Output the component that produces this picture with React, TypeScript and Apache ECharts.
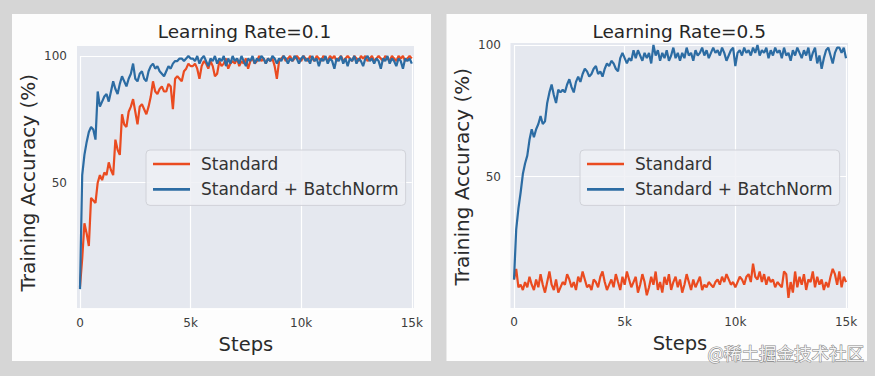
import React, { useEffect, useRef } from "react";
import * as echarts from "echarts";

// Sampled every 100 steps, 0 .. 15000
const STEP = 100;

const seriesNames = ["Standard", "Standard + BatchNorm"];
const titles = ["Learning Rate=0.1", "Learning Rate=0.5"];
const yTicks = [50, 100];
const xTickLabels = ["0", "5k", "10k", "15k"];

const stdLR01 = [
  9, 20, 34, 30, 25, 44, 43, 42, 50, 53, 51, 54, 53, 58, 55, 53, 67, 63, 61, 77,
  73, 72, 78, 80, 83, 78, 73, 80, 81, 79, 77, 80, 84, 90, 86, 85, 87, 88, 86, 86,
  89, 88, 79, 91, 92, 91, 90, 94, 95, 97, 96, 96, 97, 95, 91, 96, 98, 97, 95, 98,
  96, 92, 93, 98, 96, 97, 99, 95, 97, 98, 97, 99, 96, 98, 97, 99, 95, 98, 99, 97,
  98, 100, 98, 99, 97, 99, 98, 99, 96, 91, 98, 99, 100, 98, 99, 100, 98, 99, 100, 99,
  98, 100, 99, 98, 100, 99, 98, 100, 99, 98, 100, 99, 98, 100, 99, 100, 98, 99, 100, 98,
  99, 100, 99, 98, 100, 99, 98, 100, 99, 100, 98, 99, 100, 98, 99, 100, 99, 98, 100, 99,
  98, 100, 99, 98, 100, 99, 100, 98, 99, 100, 99,
];

const bnLR01 = [
  8, 53, 61, 66, 70, 72, 71, 67, 86, 80, 82, 84, 85, 82, 86, 90, 87, 85, 89, 92,
  90, 88, 91, 93, 97, 91, 90, 93, 94, 91, 90, 94, 96, 97, 95, 96, 94, 93, 92, 94,
  96, 95, 97, 98, 98, 99, 99, 98, 99, 100, 99, 99, 98, 100, 97, 99, 100, 98, 96, 99,
  98, 100, 97, 99, 98, 100, 96, 99, 97, 100, 98, 99, 97, 100, 98, 96, 99, 98, 100, 97,
  99, 98, 100, 99, 97, 99, 98, 100, 99, 97, 99, 98, 100, 99, 97, 99, 98, 100, 99, 97,
  99, 100, 98, 99, 97, 100, 98, 99, 96, 99, 98, 100, 97, 99, 98, 95, 99, 98, 100, 97,
  99, 96, 99, 98, 100, 97, 99, 98, 96, 99, 100, 98, 99, 97, 99, 98, 95, 99, 98, 100,
  97, 99, 98, 96, 99, 98, 95, 99, 98, 99, 97,
];

const stdLR05 = [
  11, 15, 8, 9, 7, 10, 8, 12, 9, 7, 11, 8, 13, 9, 6, 10, 14, 9, 7, 11,
  6, 8, 10, 9, 13, 11, 8, 10, 7, 12, 10, 14, 11, 8, 9, 7, 11, 10, 8, 12,
  14, 10, 7, 9, 11, 8, 13, 10, 7, 12, 9, 14, 11, 8, 10, 12, 6, 9, 13, 10,
  5, 8, 12, 9, 14, 7, 10, 6, 12, 9, 13, 7, 10, 12, 8, 11, 6, 9, 13, 10,
  7, 11, 8, 10, 12, 7, 9, 8, 10, 9, 8, 10, 11, 9, 12, 10, 13, 11, 9, 10,
  8, 10, 12, 11, 9, 12, 13, 10, 17, 12, 11, 14, 10, 13, 9, 12, 10, 11, 8, 10,
  9, 8, 14, 13, 4, 10, 6, 14, 8, 12, 9, 13, 7, 11, 10, 14, 8, 12, 9, 11,
  7, 10, 8, 12, 15, 13, 9, 14, 8, 12, 10,
];

const bnLR05 = [
  11, 30, 38, 44, 51, 55, 58, 64, 68, 65, 68, 70, 73, 70, 71, 78, 82, 85, 81, 78,
  83, 82, 83, 82, 85, 87, 84, 82, 86, 88, 86, 89, 91, 90, 88, 89, 91, 92, 89, 90,
  88, 91, 93, 92, 94, 93, 91, 90, 95, 97, 95, 93, 95, 94, 98, 95, 98, 96, 94, 97,
  95, 97, 93, 100, 96, 98, 94, 97, 95, 98, 94, 96, 99, 95, 97, 94, 97, 95, 99, 96,
  97, 94, 98, 96, 97, 99, 96, 98, 95, 97, 99, 97, 98, 96, 99, 97, 94, 96, 98, 99,
  92, 97, 98, 96, 99, 97, 98, 96, 99, 97, 100, 96, 98, 97, 99, 95, 98, 96, 99, 97,
  98, 95, 99, 96, 97, 94, 98, 96, 99, 97, 95, 98, 96, 99, 94, 97, 99, 93, 96, 91,
  95, 98, 99, 96, 93, 97, 99, 99, 97, 99, 95,
];

const steps = stdLR01.map((_, i) => i * STEP);

const ORANGE = "#ea4b20";
const BLUE = "#2c6ca3";
const FONT = "DejaVu Sans";

const toPairs = (vals: number[]) => steps.map((s, i) => [s, vals[i]]);

export default function App() {
  const ref = useRef<HTMLDivElement>(null);

  useEffect(() => {
    const chart = echarts.init(ref.current!, null, { renderer: "svg" });

    const grids = [
      { left: 80, top: 56, width: 331.8, height: 253.4 },
      { left: 514, top: 45, width: 332, height: 263.4 },
    ];
    const plotBg = [
      { x: 77, y: 46, width: 337, height: 262 },
      { x: 510.5, y: 43, width: 337.5, height: 265 },
    ];
    const cards = [
      { x: 12, y: 14, width: 419, height: 347 },
      { x: 446.5, y: 14, width: 420.5, height: 347 },
    ];
    const titleCenters = [244.5, 679.2];
    const legendLefts = [146, 580];

    const xFmt = (v: number) => {
      const idx = v / 5000;
      return Number.isInteger(idx) && idx >= 0 && idx < xTickLabels.length ? xTickLabels[idx] : "";
    };
    const yFmt = (v: number) => (yTicks.includes(v) ? String(v) : "");

    const xAxes = [0, 1].map((g) => ({
      type: "value",
      gridIndex: g,
      min: 0,
      max: 15000,
      interval: 5000,
      name: "Steps",
      nameLocation: "middle",
      nameGap: g === 0 ? 22.5 : 23.5,
      nameTextStyle: { fontFamily: FONT, fontSize: 19.5, color: "#2b2b2b", lineHeight: 20 },
      axisLine: { show: false },
      axisTick: { show: false },
      axisLabel: { formatter: xFmt, fontFamily: FONT, fontSize: 12, color: "#3c3c3c", margin: 8 },
      splitLine: { show: true, lineStyle: { color: "#ffffff", width: 1.2 } },
    }));

    const yAxes = [0, 1].map((g) => ({
      type: "value",
      gridIndex: g,
      min: 0,
      max: 100,
      interval: 50,
      name: "Training Accuracy (%)",
      nameLocation: "middle",
      nameRotate: 90,
      nameGap: 42,
      nameTextStyle: { fontFamily: FONT, fontSize: 20, color: "#2b2b2b", lineHeight: 20 },
      axisLine: { show: false },
      axisTick: { show: false },
      axisLabel: { formatter: yFmt, fontFamily: FONT, fontSize: 12, color: "#3c3c3c", margin: 13 },
      splitLine: { show: true, lineStyle: { color: "#ffffff", width: 1.2 } },
    }));

    const mkSeries = (name: string, vals: number[], g: number, color: string) => ({
      type: "line",
      name,
      xAxisIndex: g,
      yAxisIndex: g,
      data: toPairs(vals),
      symbol: "none",
      showSymbol: false,
      lineStyle: { color, width: 2.2 },
      itemStyle: { color },
      emphasis: { disabled: true },
      z: 3,
    });

    const option: any = {
      animation: false,
      backgroundColor: "#d6d6d6",
      title: [0, 1].map((g) => ({
        text: titles[g],
        left: titleCenters[g],
        top: 21.7,
        textAlign: "center",
        padding: 0,
        textStyle: { fontFamily: FONT, fontSize: 18.5, fontWeight: "normal", color: "#262626", lineHeight: 20 },
      })),
      legend: [0, 1].map((g) => ({
        data: seriesNames,
        orient: "vertical",
        left: legendLefts[g],
        top: 150,
        padding: [5, 7, 7, 7],
        itemGap: 7.4,
        itemWidth: 37,
        itemHeight: 2.6,
        icon: "rect",
        backgroundColor: "rgba(238,240,245,0.85)",
        borderColor: "#d0d2d8",
        borderWidth: 1,
        borderRadius: 4,
        selectedMode: false,
        textStyle: { fontFamily: FONT, fontSize: 17, color: "#333333", lineHeight: 18, padding: [0, 0, 0, 6] },
      })),
      grid: grids.map((r) => ({ ...r, containLabel: false })),
      xAxis: xAxes,
      yAxis: yAxes,
      series: [
        mkSeries(seriesNames[0], stdLR01, 0, ORANGE),
        mkSeries(seriesNames[1], bnLR01, 0, BLUE),
        mkSeries(seriesNames[0], stdLR05, 1, ORANGE),
        mkSeries(seriesNames[1], bnLR05, 1, BLUE),
      ],
      graphic: [
        ...cards.map((c) => ({
          type: "rect",
          z: -20,
          silent: true,
          shape: c,
          style: { fill: "#fdfdfd" },
        })),
        ...plotBg.map((c) => ({
          type: "rect",
          z: -10,
          silent: true,
          shape: c,
          style: { fill: "#e5e8ef" },
        })),
        {
          type: "text",
          z: 100,
          x: 864,
          y: 352,
          silent: true,
          style: {
            text: "@稀土掘金技术社区",
            fontFamily: "Noto Sans CJK SC",
            fontSize: 17.5,
            fill: "#f3f3f3",
            stroke: "#858585",
            lineWidth: 1.1,
            align: "right",
            verticalAlign: "middle",
          },
        },
      ],
    };

    chart.setOption(option);
    return () => chart.dispose();
  }, []);

  return (
    <div
      ref={ref}
      style={{ position: "fixed", left: 0, top: 0, width: 875, height: 376, background: "#d6d6d6" }}
    />
  );
}
